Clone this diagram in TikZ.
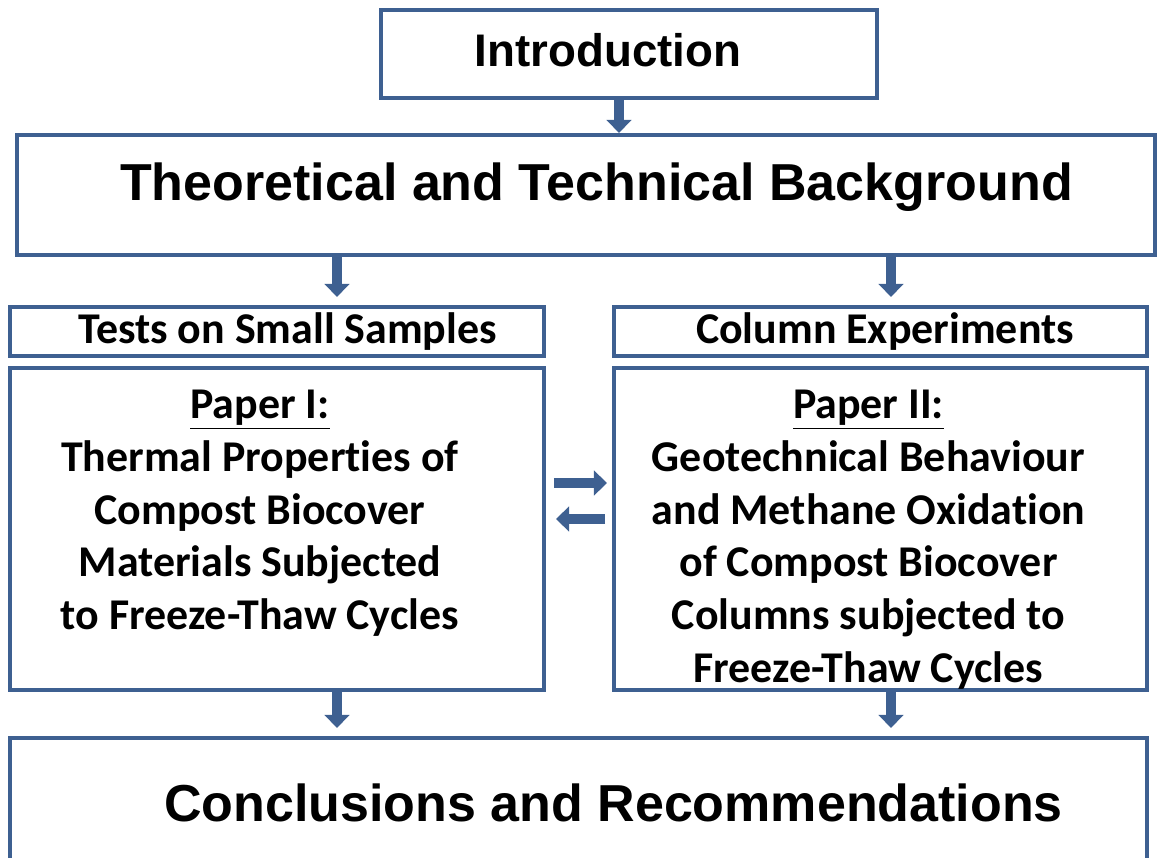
\documentclass[tikz,border=0pt]{standalone}
\usepackage{fontspec}
\setmainfont{Liberation Sans}
\newfontfamily\calibrifont[Ligatures=NoCommon]{Carlito}
\usetikzlibrary{arrows.meta}
\definecolor{frameblue}{RGB}{62,96,145}

\begin{document}
\begin{tikzpicture}[x=0.02cm, y=-0.02cm,
    box/.style = {draw=frameblue, line width=2.3pt, fill=white, inner sep=0pt},
    flow/.style = {draw=frameblue, line width=5.5pt, -{Triangle[width=14pt, length=7.5pt]}},
    big/.style = {font=\bfseries\fontsize{29.6}{35}\selectfont, inner sep=0pt},
    small/.style = {font=\calibrifont\bfseries\fontsize{25}{30}\selectfont, inner sep=0pt, align=center}]
    \useasboundingbox (0,0) rectangle (1157,858);
    \clip (0,0) rectangle (1157,858);

    \node[box, minimum width=9.92cm, minimum height=1.76cm] (intro) at (629,54) {};
    \node[box, minimum width=22.76cm, minimum height=2.4cm] (theory) at (586,195) {};
    \node[box, minimum width=10.68cm, minimum height=0.98cm] (tests) at (277,331.5) {};
    \node[box, minimum width=10.66cm, minimum height=0.98cm] (column) at (880.5,331.5) {};
    \node[box, minimum width=10.68cm, minimum height=6.44cm] (paper1) at (277,529) {};
    \node[box, minimum width=10.66cm, minimum height=6.44cm] (paper2) at (880.5,529) {};
    \node[box, minimum width=22.74cm, minimum height=2.6cm] (concl) at (578.5,803) {};

    \node[big, font=\bfseries\fontsize{26}{31}\selectfont] (introtxt) at ([xshift=-0.42cm, yshift=0.08cm]intro.center) {Introduction};
    \node[big] (theorytxt) at ([xshift=0.21cm, yshift=0.16cm]theory.center) {Theoretical and Technical Background};
    \node[small] (teststxt) at ([xshift=0.21cm]tests.center) {Tests on Small Samples};
    \node[small] (columntxt) at ([xshift=0.09cm]column.center) {Column Experiments};
    \node[big] (concltxt) at ([xshift=0.7cm]concl.center) {Conclusions and Recommendations};

    \node[small, anchor=north] (p1txt) at ([xshift=-0.34cm, yshift=-0.48cm]paper1.north)
        {\underline{Paper I:}\\Thermal Properties of\\Compost Biocover\\Materials Subjected\\to Freeze-Thaw Cycles};
    \node[small, anchor=north] (p2txt) at ([xshift=-0.24cm, yshift=-0.48cm]paper2.north)
        {\underline{Paper II:}\\Geotechnical Behaviour\\and Methane Oxidation\\of Compost Biocover\\Columns subjected to\\Freeze-Thaw Cycles};

    \draw[flow] ([xshift=-0.2cm]intro.south) -- ([xshift=-0.2cm]intro.south |- theory.north);
    \draw[flow, shorten >=0.16cm] ([xshift=1.2cm]tests.north |- theory.south) -- ([xshift=1.2cm]tests.north);
    \draw[flow, shorten >=0.16cm] ([xshift=0.21cm]column.north |- theory.south) -- ([xshift=0.21cm]column.north);
    \draw[flow, shorten >=0.16cm] ([xshift=1.2cm]paper1.south) -- ([xshift=1.2cm]paper1.south |- concl.north);
    \draw[flow, shorten >=0.16cm] ([xshift=0.21cm]paper2.south) -- ([xshift=0.21cm]paper2.south |- concl.north);

    \draw[flow, shorten <=0.16cm, shorten >=0.1cm] ([yshift=0.92cm]paper1.east) -- ([yshift=0.92cm]paper1.east -| paper2.west);
    \draw[flow, shorten <=0.14cm, shorten >=0.2cm] ([yshift=0.2cm]paper2.west) -- ([yshift=0.2cm]paper2.west -| paper1.east);

\end{tikzpicture}
\end{document}
